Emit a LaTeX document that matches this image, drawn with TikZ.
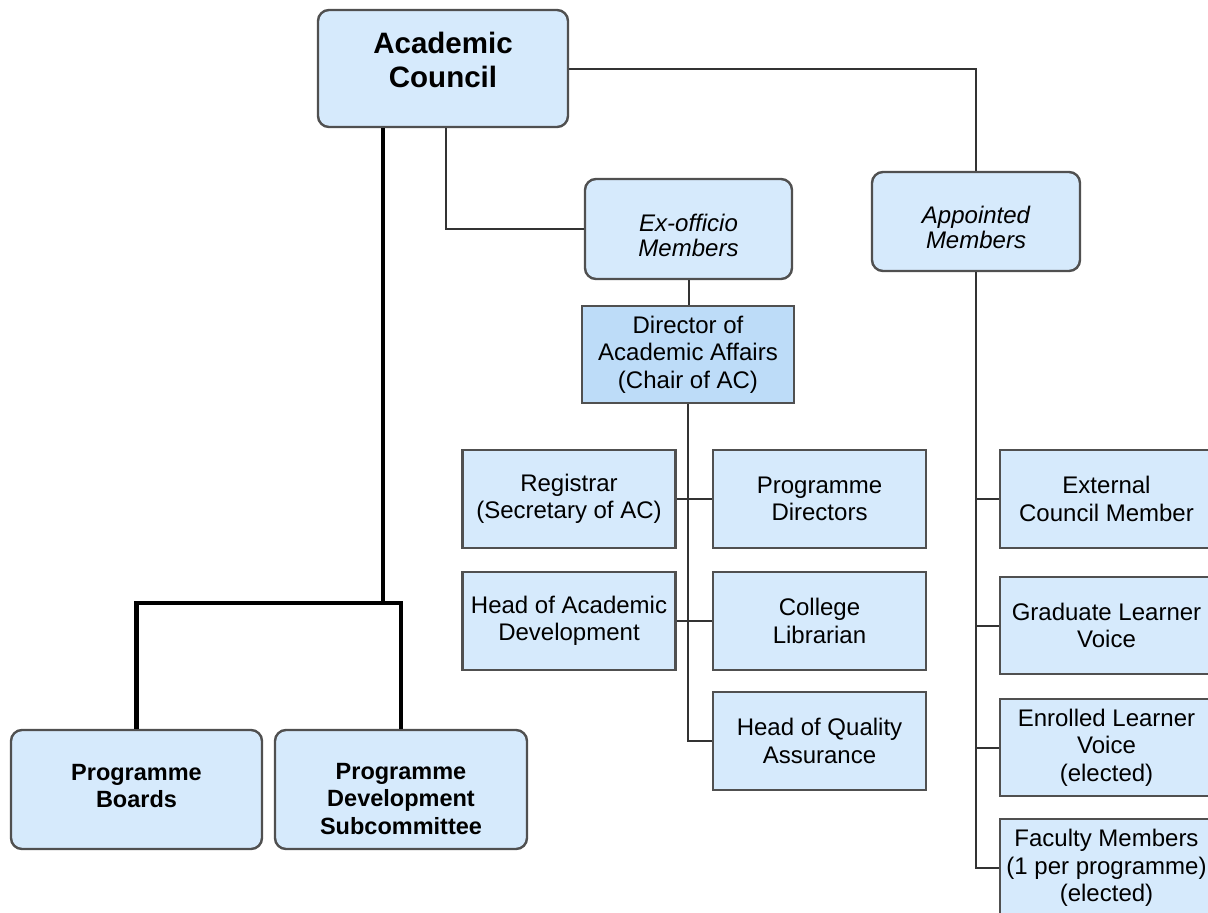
\documentclass[tikz,border=0pt]{standalone}
\usepackage{fontspec}
\setmainfont{Liberation Sans}
\usetikzlibrary{calc}
\definecolor{boxfill}{HTML}{D6EAFC}
\definecolor{dirfill}{HTML}{BDDCF8}
\definecolor{boxline}{HTML}{505050}
\definecolor{conline}{HTML}{333333}
\tikzset{
  box/.style={draw=boxline, line width=2.4pt, fill=boxfill, inner sep=0pt, align=center,
              font=\fontsize{24}{27.5}\selectfont},
  rbox/.style={box, rounded corners=11pt},
  conn/.style={draw=conline, line width=2pt},
  thickconn/.style={draw=black, line width=4.2pt},
  boldtxt/.style={align=center, inner sep=0pt, font=\bfseries\fontsize{23.5}{27.5}\selectfont},
  itxt/.style={align=center, inner sep=0pt, font=\itshape\fontsize{24}{25}\selectfont},
  std/.style={minimum width=213pt, minimum height=98pt}
}
\begin{document}
\begin{tikzpicture}[x=1pt,y=-1pt]
\useasboundingbox (0,0) rectangle (1208,913);
\clip (0,0) rectangle (1208,913);
\fill[white] (0,0) rectangle (1208,913);

% boxes
\node[rbox, minimum width=250pt, minimum height=117pt] (AC) at (443,68.5) {};
\node[rbox, minimum width=207pt, minimum height=100pt] (EX) at (688.5,229) {};
\node[rbox, minimum width=208pt, minimum height=99pt] (AP) at (976,221.5) {};
\node[box, fill=dirfill, minimum width=212pt, minimum height=97pt] (DIR) at (688,354.5) {Director of\\Academic Affairs\\(Chair of AC)};
\node[box, std] (REG) at (569,499) {Registrar\\(Secretary of AC)};
\node[box, std] (PD) at (819.5,499) {Programme\\Directors};
\node[box, std] (HAD) at (569,621) {Head of Academic\\Development};
\node[box, std] (CL) at (819.5,621) {College\\Librarian};
\node[box, std] (HQA) at (819.5,741) {Head of Quality\\Assurance};
\node[box, std] (EC) at (1106.5,499) {External\\Council Member};
\node[box, std, minimum height=97pt] (GLV) at (1106.5,625.5) {Graduate Learner\\Voice};
\node[box, std, minimum height=97pt] (ELV) at (1106.5,747.5) {Enrolled Learner\\Voice\\(elected)};
\node[box, std] (FM) at (1106.5,868) {Faculty Members\\(1 per programme)\\(elected)};
\node[rbox, minimum width=251pt, minimum height=119pt] (PB) at (136.5,789.5) {};
\node[rbox, minimum width=252pt, minimum height=119pt] (PDS) at (401,789.5) {};

% texts of rounded boxes
\node[boldtxt, font=\bfseries\fontsize{29.5}{34}\selectfont] (ACt) at (443,59.5) {Academic\\Council};
\node[itxt] (EXt) at (688.5,235.5) {Ex-officio\\Members};
\node[itxt] (APt) at (976,227) {Appointed\\Members};
\node[boldtxt] (PBt) at (136.5,786) {Programme\\Boards};
\node[boldtxt] (PDSt) at (401,799) {Programme\\Development\\Subcommittee};

% connectors
\coordinate (J) at (383,603);
\draw[thickconn] (AC.south -| J) -- (J);
\draw[thickconn, line join=miter] (PB.north) |- (PDS.north |- J) -- (PDS.north);

\draw[conn] (AC.east) -| (AP.north);
\draw[conn] ($(AC.south)+(3,0)$) |- (EX.west);
\draw[conn] (EX.south) -- (EX.south |- DIR.north);
\draw[conn] (DIR.south) |- (HQA.west);
\draw[conn] (REG.east) -- (PD.west);
\draw[conn] (HAD.east) -- (CL.west);
\draw[conn] (AP.south) |- (FM.west);
\draw[conn] (AP.south |- EC.west) -- (EC.west);
\draw[conn] (AP.south |- GLV.west) -- (GLV.west);
\draw[conn] (AP.south |- ELV.west) -- (ELV.west);
\end{tikzpicture}
\end{document}
